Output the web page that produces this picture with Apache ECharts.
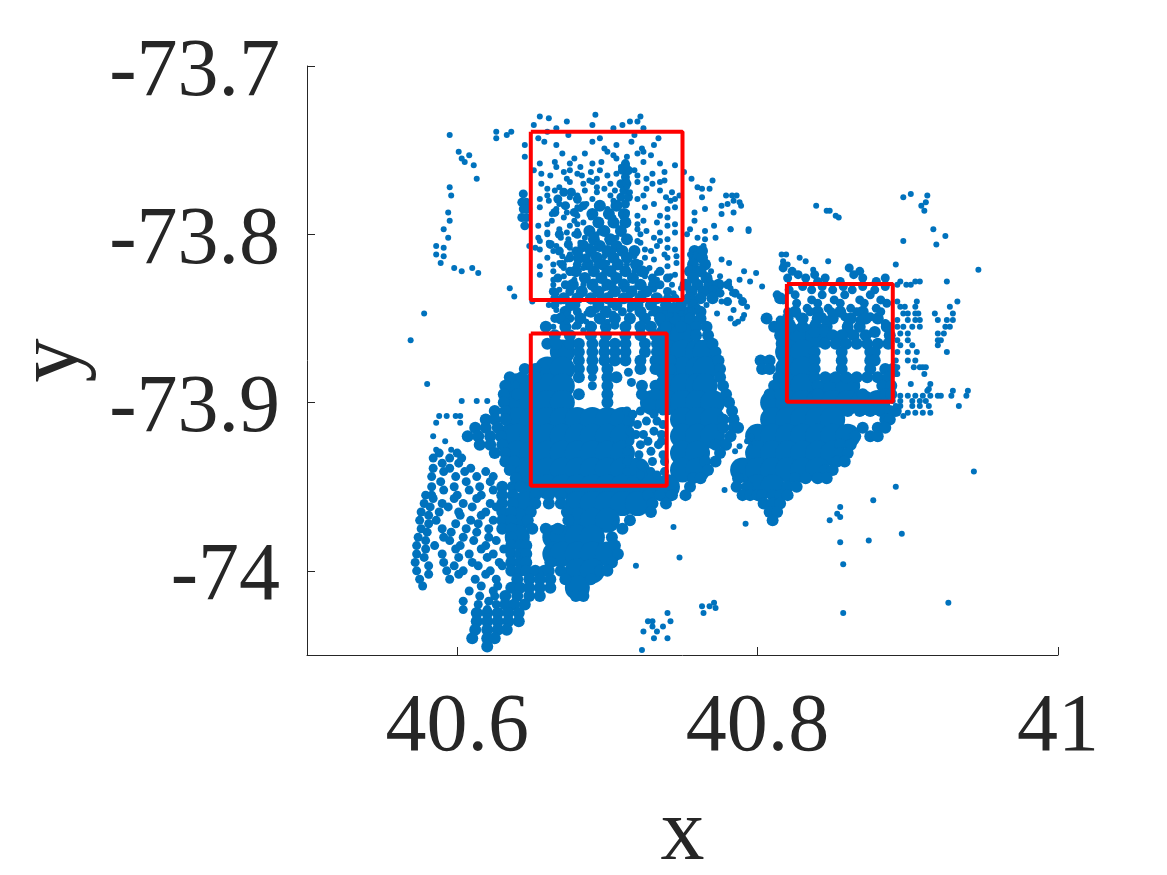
<!DOCTYPE html>
<html>
<head>
<meta charset="utf-8">
<title>Scatter with boxes</title>
<script src="https://cdn.jsdelivr.net/npm/echarts@6/dist/echarts.min.js"></script>
<style>
  html, body { margin: 0; padding: 0; background: #fff; }
  #chart { width: 1167px; height: 875px; }
</style>
</head>
<body>
<div id="chart"></div>
<script>
const xTicks = [40.6, 40.8, 41];
const yTicks = [-74, -73.9, -73.8, -73.7];

// x0, x1, y0, y1
const boxes = [
  [40.649, 40.750, -73.739, -73.839],
  [40.649, 40.7395, -73.859, -73.9495],
  [40.8195, 40.890, -73.8295, -73.8995],
];

// every row is [y, [x, x, ...]]
// solid parts of the cloud
const coreRows = [
  [-73.85, [40.74, 40.75]],
  [-73.86, [40.74, 40.75, 40.82, 40.83, 40.84]],
  [-73.87, [40.67, 40.74, 40.75, 40.76, 40.765, 40.82, 40.83]],
  [-73.88, [40.66, 40.67, 40.74, 40.75, 40.76, 40.765, 40.82, 40.83]],
  [-73.89, [40.64, 40.65, 40.66, 40.67, 40.74, 40.75, 40.76, 40.765, 40.82, 40.83, 40.85, 40.86]],
  [-73.90, [40.64, 40.65, 40.66, 40.67, 40.73, 40.74, 40.75, 40.76, 40.77, 40.81, 40.82, 40.83, 40.84, 40.85, 40.86, 40.87, 40.88]],
  [-73.91, [40.64, 40.65, 40.66, 40.67, 40.68, 40.69, 40.70, 40.71, 40.75, 40.76, 40.77, 40.81, 40.82, 40.83, 40.84, 40.85]],
  [-73.92, [40.635, 40.64, 40.65, 40.66, 40.67, 40.68, 40.69, 40.70, 40.71, 40.75, 40.76, 40.77, 40.80, 40.81, 40.82, 40.83, 40.84, 40.85, 40.86]],
  [-73.93, [40.64, 40.65, 40.66, 40.67, 40.68, 40.69, 40.70, 40.71, 40.75, 40.76, 40.80, 40.81, 40.82, 40.83, 40.84, 40.85]],
  [-73.94, [40.645, 40.65, 40.66, 40.67, 40.68, 40.69, 40.70, 40.71, 40.72, 40.75, 40.76, 40.79, 40.80, 40.81, 40.82, 40.83, 40.84]],
  [-73.95, [40.65, 40.66, 40.67, 40.68, 40.69, 40.70, 40.71, 40.72, 40.73, 40.74, 40.80, 40.81]],
  [-73.96, [40.645, 40.68, 40.69, 40.70, 40.71, 40.72]],
  [-73.97, [40.64, 40.68, 40.69, 40.70]],
  [-73.98, [40.64, 40.665, 40.67, 40.68, 40.69]],
  [-73.99, [40.665, 40.67, 40.68, 40.69, 40.70]],
  [-74.00, [40.68, 40.69]],
  [-74.01, [40.68]],
];

// edges of the solid parts and the tight knots
const edgeRows = [
  [-73.783, [40.695, 40.706]],
  [-73.788, [40.690, 40.701, 40.711]],
  [-73.793, [40.694, 40.704, 40.712]],
  [-73.798, [40.688, 40.698, 40.709]],
  [-73.803, [40.691, 40.702, 40.713]],
  [-73.807, [40.684, 40.695, 40.706]],
  [-73.81, [40.689, 40.70, 40.71, 40.718, 40.758, 40.763]],
  [-73.814, [40.681, 40.693, 40.704, 40.713, 40.758, 40.763]],
  [-73.818, [40.687, 40.697, 40.707, 40.719, 40.757, 40.765]],
  [-73.822, [40.679, 40.691, 40.702, 40.712, 40.723, 40.755, 40.762]],
  [-73.826, [40.685, 40.696, 40.706, 40.717, 40.757, 40.766]],
  [-73.83, [40.677, 40.69, 40.70, 40.711, 40.722, 40.731, 40.752, 40.76, 40.768, 40.774]],
  [-73.834, [40.683, 40.694, 40.705, 40.716, 40.726, 40.756, 40.764, 40.771]],
  [-73.838, [40.671, 40.68, 40.689, 40.70, 40.711, 40.722, 40.733, 40.755, 40.762, 40.77, 40.815]],
  [-73.842, [40.676, 40.694, 40.706, 40.717, 40.729, 40.739, 40.749, 40.757]],
  [-73.846, [40.672, 40.689, 40.699, 40.722, 40.733, 40.744, 40.755, 40.762, 40.825, 40.84, 40.855, 40.87]],
  [-73.85, [40.669, 40.682, 40.695, 40.705, 40.715, 40.725, 40.735, 40.745, 40.755, 40.762, 40.806, 40.82, 40.83, 40.84, 40.85, 40.862, 40.872, 40.88]],
  [-73.855, [40.659, 40.672, 40.689, 40.699, 40.712, 40.722, 40.729, 40.739, 40.749, 40.759, 40.766, 40.811, 40.815, 40.822, 40.83, 40.838, 40.846, 40.86, 40.868, 40.886]],
  [-73.858, [40.838, 40.845, 40.86, 40.878]],
  [-73.86, [40.665, 40.675, 40.689, 40.699, 40.712, 40.722, 40.732, 40.759, 40.767, 40.815, 40.85, 40.856, 40.864, 40.872, 40.888]],
  [-73.865, [40.66, 40.666, 40.675, 40.681, 40.69, 40.698, 40.705, 40.712, 40.725, 40.733, 40.77, 40.816, 40.845, 40.852, 40.859, 40.866, 40.873, 40.88, 40.887]],
  [-73.87, [40.681, 40.69, 40.698, 40.705, 40.712, 40.725, 40.733, 40.772, 40.816, 40.838, 40.856, 40.875, 40.878]],
  [-73.875, [40.681, 40.69, 40.698, 40.705, 40.712, 40.722, 40.732, 40.742, 40.774, 40.802, 40.808, 40.838, 40.856, 40.875, 40.878]],
  [-73.88, [40.645, 40.652, 40.681, 40.69, 40.70, 40.722, 40.732, 40.742, 40.775, 40.803, 40.808, 40.838, 40.856, 40.875, 40.885, 40.89]],
  [-73.885, [40.635, 40.643, 40.652, 40.681, 40.70, 40.706, 40.775, 40.814, 40.838, 40.845, 40.852, 40.859, 40.866, 40.873, 40.88, 40.887]],
  [-73.89, [40.632, 40.70, 40.723, 40.732, 40.777, 40.811, 40.84, 40.883, 40.889]],
  [-73.895, [40.631, 40.64, 40.681, 40.70, 40.723, 40.732, 40.779, 40.808, 40.815, 40.84, 40.87, 40.885, 40.889]],
  [-73.90, [40.631, 40.70, 40.781]],
  [-73.905, [40.625, 40.632, 40.783, 40.86, 40.868, 40.875, 40.882, 40.888, 40.892]],
  [-73.91, [40.619, 40.625, 40.632, 40.777, 40.784, 40.885, 40.888]],
  [-73.915, [40.612, 40.619, 40.627, 40.777, 40.784, 40.787, 40.87, 40.88, 40.885]],
  [-73.92, [40.607, 40.614, 40.622, 40.629, 40.782, 40.865, 40.875, 40.88]],
  [-73.925, [40.615, 40.622, 40.63, 40.772, 40.779, 40.855, 40.862]],
  [-73.93, [40.625, 40.632, 40.775, 40.855, 40.86]],
  [-73.935, [40.632, 40.638, 40.765, 40.772, 40.853, 40.858]],
  [-73.94, [40.635, 40.767, 40.845, 40.85]],
  [-73.945, [40.639, 40.757, 40.762, 40.787, 40.825, 40.832, 40.84, 40.846]],
  [-73.95, [40.63, 40.637, 40.642, 40.755, 40.786, 40.793, 40.82, 40.826]],
  [-73.955, [40.63, 40.637, 40.652, 40.661, 40.669, 40.727, 40.735, 40.743, 40.752, 40.79, 40.795, 40.80, 40.803, 40.81, 40.815, 40.82]],
  [-73.96, [40.63, 40.637, 40.652, 40.661, 40.669, 40.73, 40.739, 40.804, 40.81, 40.815]],
  [-73.965, [40.63, 40.636, 40.649, 40.673, 40.729, 40.808, 40.813]],
  [-73.97, [40.63, 40.636, 40.647, 40.674, 40.715, 40.81]],
  [-73.975, [40.63, 40.636, 40.65, 40.659, 40.667, 40.71]],
  [-73.98, [40.636, 40.703]],
  [-73.985, [40.636, 40.642, 40.646, 40.705]],
  [-73.99, [40.636, 40.642, 40.646, 40.707]],
  [-73.995, [40.636, 40.642, 40.646, 40.662, 40.703]],
  [-74.00, [40.636, 40.642, 40.646, 40.652, 40.658, 40.661, 40.669, 40.695, 40.70]],
  [-74.005, [40.64, 40.648, 40.655, 40.662, 40.672, 40.689]],
  [-74.01, [40.636, 40.642, 40.648, 40.655, 40.662]],
  [-74.015, [40.632, 40.64, 40.648, 40.655, 40.679, 40.684]],
  [-74.02, [40.632, 40.638, 40.645]],
  [-74.025, [40.613, 40.62, 40.627, 40.634, 40.641]],
  [-74.03, [40.613, 40.62, 40.627, 40.634, 40.641]],
  [-74.035, [40.612, 40.62, 40.627, 40.633]],
  [-74.04, [40.61, 40.62, 40.625]],
  [-74.045, [40.62]],
];

// speckled parts, where the points nearly touch
const midRows = [
  [-73.758, [40.712]], [-73.762, [40.710, 40.714]], [-73.766, [40.712]], [-73.77, [40.709, 40.713]],
  [-73.774, [40.711]], [-73.778, [40.709, 40.714]], [-73.782, [40.712]],
  [-73.776, [40.644]], [-73.781, [40.646, 40.643]], [-73.785, [40.644, 40.647]], [-73.79, [40.643, 40.646]], [-73.795, [40.645]],
  [-73.775, [40.671, 40.676]], [-73.779, [40.667, 40.68]], [-73.783, [40.672, 40.684]], [-73.787, [40.665, 40.678]],
  [-73.80, [40.668, 40.68]], [-73.806, [40.662, 40.674, 40.684]], [-73.81, [40.668, 40.679]], [-73.814, [40.675, 40.686]],
  [-73.818, [40.67, 40.68]], [-73.822, [40.675, 40.725, 40.735]], [-73.826, [40.667, 40.73, 40.74]], [-73.83, [40.672, 40.735, 40.78]],
  [-73.834, [40.664, 40.675, 40.74]], [-73.835, [40.775, 40.785]], [-73.838, [40.665, 40.74, 40.745]], [-73.84, [40.78, 40.79]],
  [-73.842, [40.665, 40.675]], [-73.846, [40.68, 40.71]], [-73.85, [40.665, 40.675]], [-73.854, [40.68, 40.705]],
  [-73.82, [40.817, 40.861]], [-73.822, [40.823, 40.868]], [-73.824, [40.827, 40.838, 40.864]],
  [-73.826, [40.82, 40.832, 40.845, 40.87, 40.885]], [-73.828, [40.84, 40.855, 40.879]],
  [-73.831, [40.83, 40.843, 40.857, 40.87, 40.885]], [-73.833, [40.821, 40.836, 40.85, 40.863, 40.878]],
  [-73.836, [40.813, 40.825, 40.843, 40.858, 40.875]], [-73.839, [40.817, 40.836, 40.851, 40.868, 40.882]],
  [-73.841, [40.826, 40.84, 40.855, 40.871, 40.886]], [-73.844, [40.833, 40.847, 40.862, 40.879]],
  [-73.846, [40.82, 40.835, 40.849, 40.866, 40.882]], [-73.849, [40.828, 40.843, 40.858, 40.875]],
  [-73.851, [40.815, 40.83, 40.845, 40.868]], [-73.853, [40.822, 40.838, 40.86, 40.885]],
  [-73.882, [40.714]], [-73.885, [40.69]], [-73.888, [40.716]], [-73.89, [40.69]],
  [-73.905, [40.722, 40.737, 40.713]], [-73.907, [40.717, 40.731]], [-73.911, [40.713, 40.726, 40.733]], [-73.913, [40.72, 40.737]],
  [-73.917, [40.715, 40.731]], [-73.919, [40.724, 40.736, 40.719]], [-73.923, [40.715, 40.727, 40.736]], [-73.925, [40.722, 40.734]],
  [-73.929, [40.713, 40.729]], [-73.931, [40.721, 40.737]], [-73.935, [40.713, 40.73, 40.738]], [-73.937, [40.722]],
  [-73.941, [40.713, 40.729, 40.738]], [-73.943, [40.722, 40.733]],
  [-73.93, [40.588, 40.60]], [-73.933, [40.584, 40.595, 40.603]],
  [-73.936, [40.59, 40.601]], [-73.939, [40.584, 40.595, 40.609]],
  [-73.941, [40.591, 40.605, 40.619]], [-73.944, [40.583, 40.599, 40.613, 40.624]],
  [-73.947, [40.589, 40.606, 40.622]], [-73.95, [40.583, 40.598, 40.615]],
  [-73.952, [40.591, 40.608, 40.624]], [-73.955, [40.579, 40.583, 40.60, 40.616]],
  [-73.957, [40.584, 40.598, 40.613]], [-73.96, [40.578, 40.59, 40.604, 40.622]],
  [-73.962, [40.582, 40.594, 40.61, 40.626]], [-73.965, [40.576, 40.588, 40.601, 40.619]],
  [-73.967, [40.581, 40.602, 40.616]], [-73.97, [40.575, 40.586, 40.609, 40.624]],
  [-73.972, [40.581, 40.599, 40.614]], [-73.975, [40.576, 40.59, 40.606, 40.621]],
  [-73.977, [40.58, 40.596, 40.613]], [-73.98, [40.574, 40.591, 40.604, 40.621]],
  [-73.982, [40.579, 40.595, 40.611, 40.626]], [-73.985, [40.573, 40.585, 40.602, 40.619]],
  [-73.987, [40.579, 40.599, 40.616, 40.631]], [-73.99, [40.573, 40.59, 40.608, 40.624]],
  [-73.992, [40.578, 40.601, 40.62]], [-73.995, [40.572, 40.591, 40.61, 40.628]],
  [-73.997, [40.581, 40.598, 40.614, 40.63]], [-74.0, [40.573, 40.593, 40.604, 40.622]],
  [-74.002, [40.581, 40.601, 40.619]], [-74.005, [40.575, 40.595, 40.612, 40.626]],
  [-74.009, [40.577, 40.616, 40.627]], [-74.012, [40.608, 40.624]],
  [-74.015, [40.615, 40.625]], [-74.018, [40.604, 40.621]],
  [-74.02, [40.614, 40.626]], [-74.023, [40.604, 40.62]],
];

// single points
const dotRows = [
  [-73.729, [40.692]], [-73.73, [40.655, 40.722]], [-73.731, [40.661]],
  [-73.733, [40.673, 40.715, 40.72]], [-73.735, [40.651, 40.69, 40.71]], [-73.737, [40.666, 40.704, 40.724]],
  [-73.739, [40.626, 40.636, 40.66]], [-73.741, [40.595, 40.633, 40.674, 40.718]], [-73.743, [40.626, 40.654, 40.695, 40.734]],
  [-73.745, [40.658, 40.69, 40.716]], [-73.747, [40.645, 40.666, 40.706, 40.731]], [-73.749, [40.698, 40.723]],
  [-73.751, [40.601, 40.70, 40.724]], [-73.752, [40.67, 40.685, 40.72]], [-73.753, [40.608, 40.704, 40.729]], [-73.754, [40.645, 40.713]],
  [-73.755, [40.603, 40.678, 40.706]], [-73.757, [40.605, 40.665, 40.696, 40.724]], [-73.758, [40.655, 40.675, 40.69, 40.735]], [-73.759, [40.611, 40.713, 40.745]],
  [-73.76, [40.666, 40.682, 40.709]], [-73.762, [40.651, 40.675, 40.695, 40.718]], [-73.763, [40.671, 40.689, 40.714, 40.738, 40.751]], [-73.764, [40.656, 40.68, 40.706, 40.73]],
  [-73.765, [40.662, 40.683, 40.70, 40.72]], [-73.767, [40.613, 40.673, 40.693, 40.726, 40.756]], [-73.768, [40.688, 40.713, 40.738, 40.77]], [-73.769, [40.675, 40.69, 40.72, 40.735]],
  [-73.77, [40.656, 40.684, 40.702, 40.73]], [-73.772, [40.595, 40.668, 40.693, 40.713, 40.76]], [-73.773, [40.66, 40.698, 40.726, 40.763, 40.768]], [-73.774, [40.665, 40.685, 40.705, 40.735]],
  [-73.775, [40.671, 40.693, 40.715, 40.743]], [-73.777, [40.596, 40.66, 40.68, 40.702, 40.724, 40.748]], [-73.778, [40.675, 40.709, 40.739, 40.763]], [-73.779, [40.655, 40.69, 40.72, 40.745]],
  [-73.78, [40.661, 40.68, 40.704, 40.742, 40.784]], [-73.782, [40.668, 40.686, 40.711, 40.731, 40.78]], [-73.783, [40.673, 40.693, 40.789]], [-73.784, [40.655, 40.68, 40.725, 40.745]],
  [-73.785, [40.666, 40.682, 40.70, 40.74, 40.765]], [-73.787, [40.594, 40.673, 40.691, 40.713, 40.758, 40.784]], [-73.788, [40.663, 40.709, 40.776]], [-73.789, [40.68, 40.72, 40.735]],
  [-73.79, [40.671, 40.689, 40.704, 40.74]], [-73.792, [40.595, 40.663, 40.678, 40.695, 40.724, 40.758]], [-73.793, [40.684, 40.711, 40.733]], [-73.794, [40.66, 40.68, 40.72, 40.745]],
  [-73.795, [40.654, 40.675, 40.706, 40.74, 40.771]], [-73.797, [40.591, 40.668, 40.688, 40.72, 40.755, 40.782]], [-73.798, [40.68, 40.695, 40.726, 40.765, 40.794]], [-73.799, [40.66, 40.673, 40.735, 40.745]],
  [-73.80, [40.66, 40.678, 40.693, 40.722, 40.753]], [-73.802, [40.594, 40.654, 40.669, 40.685, 40.706, 40.731, 40.76, 40.772]], [-73.803, [40.674, 40.70, 40.74, 40.765]], [-73.804, [40.655, 40.72, 40.735]],
  [-73.805, [40.661, 40.682, 40.701, 40.722]], [-73.807, [40.586, 40.648, 40.666, 40.689, 40.708, 40.733, 40.764]], [-73.808, [40.591, 40.652, 40.675, 40.695, 40.74]], [-73.809, [40.655, 40.725, 40.745]],
  [-73.81, [40.664, 40.682, 40.704, 40.729]], [-73.812, [40.586, 40.675, 40.691, 40.711, 40.738, 40.755]], [-73.813, [40.591, 40.67, 40.698, 40.718, 40.746]], [-73.814, [40.66, 40.725, 40.74]],
  [-73.815, [40.673, 40.686, 40.706, 40.731, 40.776]], [-73.817, [40.589, 40.668, 40.68, 40.70, 40.722, 40.746, 40.781]], [-73.818, [40.664, 40.693, 40.713]], [-73.819, [40.655, 40.74]],
  [-73.82, [40.598, 40.61, 40.671, 40.684, 40.704, 40.728, 40.755]], [-73.822, [40.603, 40.664, 40.678, 40.698, 40.718, 40.769, 40.791]], [-73.823, [40.614, 40.675, 40.691, 40.711, 40.733, 40.799]], [-73.824, [40.655, 40.745]],
  [-73.825, [40.671, 40.684, 40.704, 40.725, 40.742, 40.775]], [-73.827, [40.664, 40.678, 40.698, 40.718, 40.733, 40.768, 40.788]], [-73.828, [40.691, 40.711, 40.781, 40.795]],
  [-73.83, [40.664, 40.684, 40.704, 40.724, 40.743, 40.775]], [-73.832, [40.635, 40.676, 40.698, 40.718, 40.749, 40.769, 40.782]], [-73.833, [40.668, 40.691, 40.711, 40.731]],
  [-73.835, [40.666, 40.682, 40.702, 40.722, 40.744, 40.783]], [-73.837, [40.638, 40.672, 40.695, 40.715, 40.731, 40.753, 40.788]], [-73.838, [40.689, 40.709]],
  [-73.84, [40.65, 40.669, 40.689, 40.709, 40.729, 40.753, 40.776]], [-73.842, [40.661, 40.68, 40.702, 40.722, 40.744, 40.766]], [-73.843, [40.695, 40.715, 40.76, 40.793]],
  [-73.845, [40.666, 40.68, 40.693, 40.715, 40.735, 40.755, 40.784]], [-73.847, [40.578, 40.673, 40.686, 40.704, 40.729, 40.749, 40.773]], [-73.848, [40.70, 40.722, 40.742, 40.791]],
  [-73.85, [40.666, 40.68, 40.693, 40.782, 40.79]], [-73.852, [40.673, 40.686, 40.70, 40.787]],
  [-73.855, [40.664, 40.678, 40.691]], [-73.857, [40.671, 40.684, 40.698]],
  [-73.863, [40.569]],
  [-73.889, [40.58]],
  [-73.899, [40.603, 40.613, 40.62]],
  [-73.908, [40.588, 40.593, 40.599, 40.602]],
  [-73.912, [40.586, 40.602]],
  [-73.92, [40.584]],
  [-73.923, [40.592]],
  [-73.928, [40.586, 40.596]],
  // right of the third box
  [-73.777, [40.779, 40.783, 40.786, 40.913]],
  [-73.783, [40.776, 40.839, 40.909]],
  [-73.781, [40.788, 40.912]],
  [-73.778, [40.897]],
  [-73.776, [40.902]],
  [-73.786, [40.846, 40.848, 40.911]],
  [-73.789, [40.852]],
  [-73.79, [40.854]],
  [-73.797, [40.782, 40.794, 40.917]],
  [-73.801, [40.925]],
  [-73.804, [40.897]],
  [-73.806, [40.919]],
  [-73.812, [40.816, 40.819]],
  [-73.814, [40.828]],
  [-73.816, [40.817, 40.832, 40.847]],
  [-73.818, [40.817, 40.82, 40.892]],
  [-73.821, [40.837, 40.947]],
  [-73.828, [40.895, 40.905, 40.908, 40.926]],
  [-73.83, [40.893, 40.899, 40.902]],
  [-73.831, [40.803]],
  [-73.84, [40.893, 40.906, 40.933]],
  [-73.843, [40.895, 40.898, 40.905, 40.928]],
  [-73.847, [40.897, 40.90, 40.905, 40.907, 40.918, 40.93]],
  [-73.851, [40.893, 40.90, 40.905, 40.908, 40.92, 40.926, 40.93]],
  [-73.853, [40.785]],
  [-73.855, [40.893, 40.897, 40.903, 40.908, 40.925, 40.928]],
  [-73.859, [40.895, 40.90, 40.92, 40.924]],
  [-73.863, [40.893, 40.90, 40.92, 40.922]],
  [-73.866, [40.895, 40.903, 40.92]],
  [-73.87, [40.893, 40.90, 40.906, 40.926]],
  [-73.875, [40.892, 40.90, 40.905]],
  [-73.879, [40.893, 40.904, 40.908, 40.91, 40.912]],
  [-73.883, [40.892, 40.893, 40.911]],
  [-73.889, [40.902, 40.915]],
  [-73.892, [40.914]],
  [-73.893, [40.913, 40.93, 40.94]],
  [-73.896, [40.895, 40.90, 40.905, 40.91, 40.915, 40.92, 40.922, 40.929, 40.939]],
  [-73.899, [40.89, 40.895, 40.903, 40.908, 40.912]],
  [-73.902, [40.892, 40.895, 40.903, 40.908, 40.914, 40.934]],
  [-73.906, [40.90, 40.905, 40.91, 40.915]],
  [-73.908, [40.897]],
  // stray points
  [-73.92, [40.796]],
  [-73.923, [40.793]],
  [-73.924, [40.798]],
  [-73.926, [40.788]],
  [-73.929, [40.785]],
  [-73.941, [40.944]],
  [-73.95, [40.892]],
  [-73.952, [40.778]],
  [-73.958, [40.877]],
  [-73.962, [40.855]],
  [-73.966, [40.853]],
  [-73.968, [40.855]],
  [-73.97, [40.848]],
  [-73.972, [40.792, 40.705]],
  [-73.974, [40.744]],
  [-73.978, [40.896]],
  [-73.992, [40.748]],
  [-73.997, [40.719]],
  [-73.982, [40.874]],
  [-73.983, [40.855]],
  [-73.996, [40.857]],
  [-74.019, [40.927, 40.771]],
  [-74.021, [40.763, 40.768]],
  [-74.022, [40.772]],
  [-74.025, [40.857, 40.764, 40.74]],
  [-74.03, [40.727, 40.73, 40.742]],
  [-74.033, [40.73, 40.737]],
  [-74.036, [40.724, 40.733]],
  [-74.04, [40.731, 40.74]],
  [-74.047, [40.723]],
];

const toPoints = (rows) => rows.flatMap(([y, xs]) => xs.map((x) => [x, y]));

const boxLine = ([x0, x1, y0, y1]) => [[x0, y0], [x1, y0], [x1, y1], [x0, y1], [x0, y0]];

const axisText = "#262626";
const cloudColor = "#0072BD";
const serif = "'Liberation Serif', 'Times New Roman', serif";

const cloudSeries = (rows, size) => ({
  type: "scatter",
  data: toPoints(rows),
  symbolSize: size,
  itemStyle: { color: cloudColor, opacity: 1 },
  silent: true,
  z: 2,
});

const chart = echarts.init(document.getElementById("chart"));

chart.setOption({
  animation: false,
  backgroundColor: "#fff",
  grid: { left: 307, right: 109, top: 66, bottom: 220, containLabel: false, outerBoundsMode: "none" },
  xAxis: {
    type: "value",
    min: 40.5,
    max: 41,
    name: "x",
    nameLocation: "middle",
    nameGap: 137,
    nameTextStyle: { color: axisText, fontSize: 88, fontFamily: serif },
    axisLine: { show: true, lineStyle: { color: axisText, width: 1 } },
    axisTick: { show: true, inside: true, length: 8, customValues: xTicks, lineStyle: { color: axisText, width: 1 } },
    axisLabel: {
      customValues: xTicks,
      color: axisText,
      fontSize: 82,
      fontFamily: serif,
      margin: 32,
      formatter: (value) => String(value),
    },
    splitLine: { show: false },
  },
  yAxis: {
    type: "value",
    min: -74.05,
    max: -73.7,
    name: "y",
    nameLocation: "middle",
    nameGap: 205,
    nameRotate: 90,
    nameTextStyle: { color: axisText, fontSize: 88, fontFamily: serif },
    axisLine: { show: true, lineStyle: { color: axisText, width: 1 } },
    axisTick: { show: true, inside: true, length: 8, customValues: yTicks, lineStyle: { color: axisText, width: 1 } },
    axisLabel: {
      customValues: yTicks,
      color: axisText,
      fontSize: 82,
      fontFamily: serif,
      margin: 27,
      verticalAlign: "top",
      lineHeight: 14,
      formatter: (value) => String(value),
    },
    splitLine: { show: false },
  },
  series: [
    cloudSeries(coreRows, 25),
    cloudSeries(edgeRows, 12),
    cloudSeries(midRows, 9),
    cloudSeries(dotRows, 6),
    ...boxes.map((box) => ({
      type: "line",
      data: boxLine(box),
      showSymbol: false,
      silent: true,
      lineStyle: { color: "#ff0000", width: 4 },
      z: 5,
    })),
  ],
});
</script>
</body>
</html>
